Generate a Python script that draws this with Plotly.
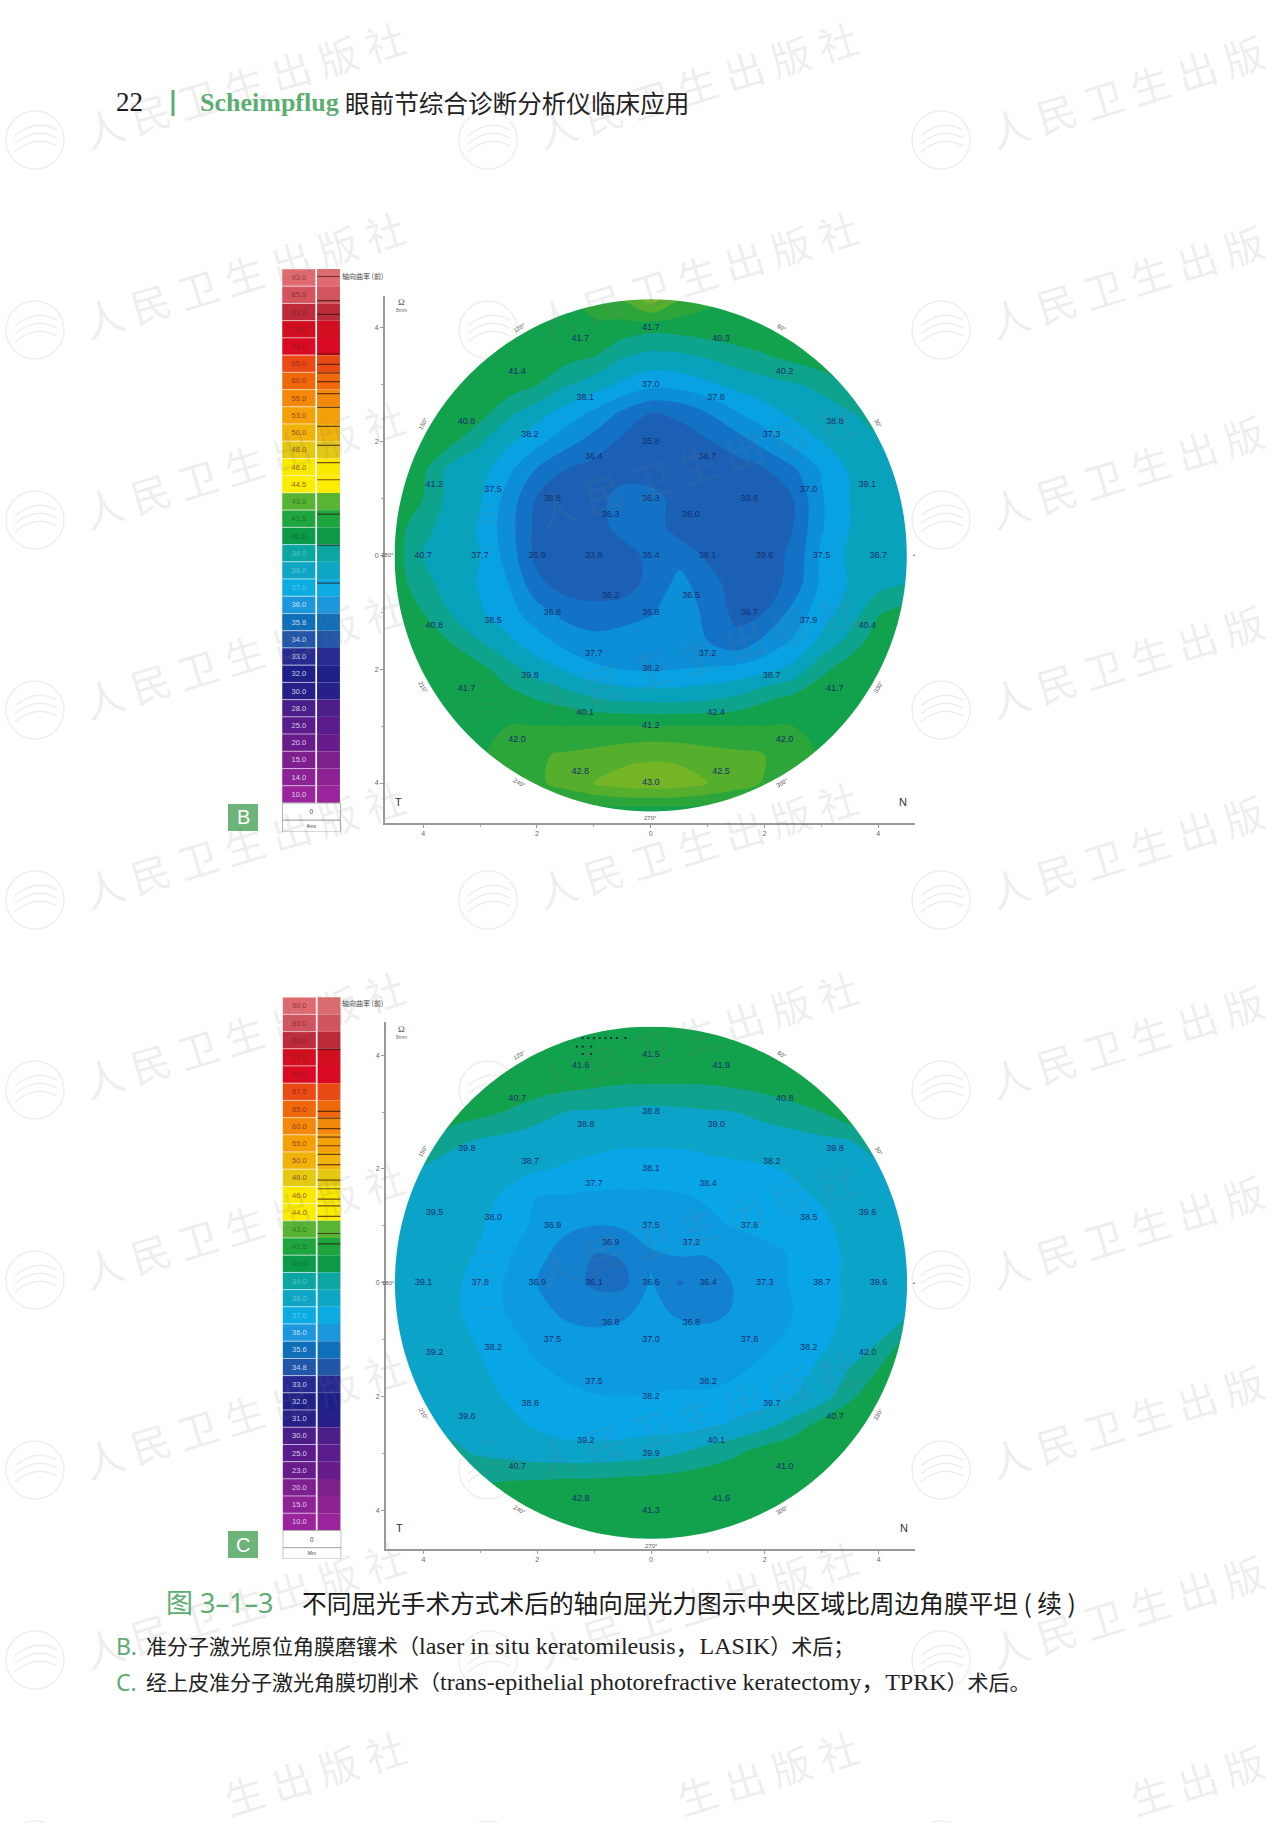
import numpy as np
import plotly.graph_objects as go

# ---------- data ----------
GRID = [-4.5, -4, -3.5, -3, -2.5, -2, -1.5, -1, -0.5, 0, 0.5, 1, 1.5, 2, 2.5, 3, 3.5, 4, 4.5]

# band level per 0.5 mm cell, rows from y=+4.5 to y=-4.5
Z_B = [
 [6.9,6.9,6.9,6.9,6.9,6.9,6.9,7.2,8.0,9.5,8.0,7.2,6.9,6.9,6.9,6.9,6.9,6.9,6.9],
 [6.9,6.9,6.9,6.9,6.9,6.9,6.9,6.9,6.6,6.3,6.4,6.6,6.8,6.9,6.9,6.9,6.9,6.9,6.9],
 [6.9,6.9,6.9,6.9,6.9,6.7,6.4,6.0,5.1,4.7,4.8,5.1,5.5,5.9,6.3,6.8,6.9,6.9,6.9],
 [6.9,6.9,6.9,6.9,6.6,6.0,5.1,4.5,3.8,3.3,3.4,3.8,4.3,4.6,4.9,5.2,6.0,6.9,6.9],
 [6.9,6.9,6.9,6.4,5.2,4.4,3.6,2.8,1.8,1.0,1.2,2.0,2.9,3.6,4.2,4.6,4.9,5.4,6.0],
 [6.9,6.9,6.2,5.1,4.2,3.3,2.4,1.6,0.8,0.4,0.5,0.9,1.5,2.4,3.3,4.0,4.6,4.9,5.0],
 [6.9,6.2,4.6,4.4,3.2,1.9,1.0,0.6,0.4,0.3,0.3,0.4,0.5,0.9,1.8,3.1,4.1,4.6,4.9],
 [6.5,6.0,4.6,4.1,2.6,0.9,0.5,0.5,1.5,1.5,0.5,0.3,0.3,0.4,1.0,2.9,4.0,4.6,4.8],
 [6.5,5.3,4.5,3.9,2.4,0.7,0.4,0.5,1.4,1.6,0.5,0.4,0.3,0.4,1.0,2.9,4.0,4.5,4.8],
 [6.5,5.0,4.5,4.0,2.6,0.7,0.3,0.3,0.5,1.3,1.7,0.8,0.4,0.5,1.2,3.2,4.2,4.6,4.8],
 [6.6,5.3,4.6,3.9,3.0,1.3,0.5,0.4,0.5,1.3,2.3,1.5,0.5,0.4,1.4,3.2,4.1,4.6,5.0],
 [6.9,6.0,4.9,4.1,3.4,2.4,1.7,1.4,1.5,1.9,2.5,1.8,0.7,1.0,2.3,3.6,4.4,5.9,6.4],
 [6.9,6.9,5.9,5.0,4.2,3.4,2.6,2.3,2.5,2.6,2.5,2.0,1.3,2.2,3.1,4.2,5.3,6.6,6.9],
 [6.9,6.9,6.9,6.3,5.4,4.5,3.9,3.2,3.0,2.9,3.0,3.1,3.3,3.7,4.3,5.7,6.6,6.9,6.9],
 [6.9,6.9,6.9,6.9,6.4,5.9,5.5,5.0,4.7,4.6,4.6,4.8,5.1,5.8,6.2,6.8,6.9,6.9,6.9],
 [6.9,6.9,6.9,6.9,7.0,7.02,7.02,7.02,7.02,7.02,7.02,7.02,7.02,7.02,7.0,6.95,6.9,6.9,6.9],
 [6.9,6.9,6.9,6.9,7.3,7.9,8.1,8.3,8.6,8.8,8.7,8.4,8.2,8.0,7.4,6.9,6.9,6.9,6.9],
 [6.9,6.9,6.9,6.9,6.9,7.8,8.4,9.0,9.5,9.6,9.5,9.0,8.5,7.9,6.9,6.9,6.9,6.9,6.9],
 [6.5,6.5,6.5,6.5,6.5,6.5,6.5,6.5,6.5,6.5,6.5,6.5,6.5,6.5,6.5,6.5,6.5,6.5,6.5],
]
Z_C = [
 [6.8,6.8,6.8,6.8,6.8,6.8,6.8,6.8,6.8,6.8,6.8,6.8,6.8,6.8,6.8,6.8,6.8,6.8,6.8],
 [6.8,6.8,6.8,6.8,6.8,6.8,6.8,6.8,6.8,6.8,6.8,6.8,6.8,6.8,6.8,6.8,6.8,6.8,6.8],
 [6.9,6.9,6.9,6.9,6.9,6.6,6.4,6.2,6.05,6.02,6.02,6.05,6.2,6.4,6.7,6.9,6.9,6.9,6.9],
 [6.9,6.9,6.8,6.3,5.9,5.4,5.0,4.9,4.8,4.7,4.8,4.9,5.0,5.3,5.6,6.0,6.8,6.9,6.9],
 [6.5,6.5,5.2,4.9,4.7,4.5,4.4,4.3,4.2,4.2,4.2,4.3,4.4,4.5,4.6,4.8,5.0,5.6,6.0],
 [5.0,4.8,4.6,4.5,4.3,4.1,3.9,3.7,3.5,3.5,3.5,3.7,3.8,3.9,4.1,4.3,4.5,4.7,4.9],
 [4.9,4.7,4.5,4.3,3.8,3.0,2.9,2.8,2.8,2.8,2.9,3.1,3.3,3.6,3.8,4.1,4.4,4.6,4.8],
 [4.8,4.6,4.4,4.1,3.4,2.8,2.2,2.0,2.1,2.4,2.7,2.8,3.1,3.3,3.5,3.8,4.3,4.6,4.8],
 [4.8,4.6,4.3,3.9,3.1,2.3,1.6,1.0,1.1,1.9,2.1,2.05,2.3,2.7,3.1,3.6,4.2,4.5,4.7],
 [4.8,4.6,4.2,3.6,2.85,2.0,1.5,0.8,0.7,2.1,0.9,1.5,2.1,2.6,3.1,3.6,4.2,4.5,4.7],
 [4.8,4.6,4.2,3.6,2.9,2.3,1.8,1.6,1.8,2.3,1.8,1.7,2.1,2.6,3.0,3.6,4.2,4.5,4.7],
 [4.8,4.6,4.3,3.9,3.3,2.7,2.4,2.3,2.4,2.6,2.5,2.4,2.5,2.8,3.2,3.8,4.4,4.9,6.2],
 [4.9,4.7,4.4,4.1,3.6,3.1,2.8,2.6,2.7,2.7,2.7,2.7,2.85,3.2,3.6,4.2,5.0,6.0,6.6],
 [5.0,4.8,4.6,4.3,3.9,3.5,3.2,3.05,3.0,3.05,3.1,3.1,3.3,3.5,4.0,4.5,5.8,6.7,6.9],
 [5.0,5.0,4.8,4.5,4.2,3.9,3.6,3.5,3.5,3.6,3.6,3.8,4.2,4.7,5.4,6.4,6.9,6.9,6.9],
 [5.2,5.2,5.2,4.9,4.7,4.5,4.4,4.4,4.5,4.7,5.0,5.5,5.9,6.5,6.9,6.9,6.9,6.9,6.9],
 [6.0,6.0,6.0,5.9,6.05,6.1,6.2,6.2,6.3,6.4,6.5,6.6,6.7,6.8,6.9,6.9,6.9,6.9,6.9],
 [6.8,6.8,6.8,6.8,6.8,6.8,6.8,6.8,6.8,6.8,6.8,6.8,6.8,6.8,6.8,6.8,6.8,6.8,6.8],
 [6.8,6.8,6.8,6.8,6.8,6.8,6.8,6.8,6.8,6.8,6.8,6.8,6.8,6.8,6.8,6.8,6.8,6.8,6.8],
]
BANDS_B = ["#1b60b5", "#1472c6", "#0c8ed9", "#08a2e2", "#09a2bc", "#0ea38c",
           "#12a14c", "#2ca63a", "#55ae2c", "#74b527", "#9ab91e"]
BANDS_C = ["#1a6cc0", "#1480d0", "#0c9ae0", "#08a6e6", "#0ba3c8", "#0fa38f",
           "#12a14c", "#2ca63a", "#55ae2c", "#74b527", "#9ab91e"]

# printed values: centre then rings at r = 1, 2, 3, 4 (counter-clockwise from 0 deg)
B_CENTER = "36.4"
B_R1 = ["38.1","36.0","36.3","36.3","33.8","36.2","36.8","36.5"]
B_R2 = ["39.6","39.8","36.7","35.8","36.4","38.8","35.9","36.8","37.7","38.2","37.2","36.7"]
B_R3 = ["37.5","37.0","37.3","37.8","37.0","38.1","38.2","37.5","37.7","38.5","39.8","40.1","41.2","42.4","38.7","37.9"]
B_R4 = ["38.7","39.1","38.8","40.2","40.3","41.7","41.7","41.4","40.8","41.2","40.7","40.8","41.7","42.0","42.8","43.0","42.5","42.0","41.7","40.4"]
C_CENTER = "36.6"
C_R1 = ["36.4","37.2","37.5","36.9","36.1","36.8","37.0","36.8"]
C_R2 = ["37.3","37.6","38.4","38.1","37.7","36.9","36.9","37.5","37.5","38.2","38.2","37.8"]
C_R3 = ["38.7","38.5","38.2","39.0","38.8","38.8","38.7","38.0","37.8","38.2","38.8","39.2","39.9","40.1","39.7","38.2"]
C_R4 = ["39.6","39.6","39.8","40.8","41.9","41.5","41.6","40.7","39.8","39.5","39.1","39.2","39.6","40.7","42.8","41.3","41.6","41.0","40.7","42.0"]

TICK_VALS = [-4, -2, 0, 2, 4]
TICK_TEXT = ["4", "2", "0", "2", "4"]
ANGLES = [0, 30, 60, 90, 120, 150, 180, 210, 240, 270, 300, 330]
ANGLE_TEXT = ["•", "30°", "60°", "90°", "120°", "150°", "180°", "210°", "240°", "270°", "300°", "330°"]
C_DOTS_X = [-1.2, -1.1, -1.0, -0.9, -0.8, -0.7, -0.6, -0.45, -1.3, -1.2, -1.05, -1.05, -1.2]
C_DOTS_Y = [4.3, 4.3, 4.3, 4.3, 4.3, 4.3, 4.3, 4.3, 4.15, 4.15, 4.15, 4.02, 4.02]

LEGEND_COLORS = ["#df6b70","#d3545f","#bd2b3b","#d20f20","#da0a22","#ea4a13","#ef690c","#f3880a",
                 "#f4a008","#f1b20a","#e4c812","#fae800","#fbec00","#58b432","#1fa53e","#0c9a48",
                 "#0ba5a2","#0ea6c4","#0cabe2","#1c96dc","#0f6fb8","#2256a8","#272a90","#1f1f88",
                 "#262088","#4c1e8a","#5a1c8c","#681c8c","#7d208e","#8c2294","#9a249c"]
LEGEND_B = ["93.0","85.0","83.0","75.0","70.0","65.0","60.0","55.0","53.0","50.0","48.0","46.0","44.5",
            "43.0","41.5","40.0","39.0","38.0","37.0","36.0","35.8","34.0","33.0","32.0","30.0","28.0",
            "25.0","20.0","15.0","14.0","10.0"]
LEGEND_C = ["90.0","83.0","80.0","77.0","70.0","67.5","65.0","60.0","55.0","50.0","48.0","46.0","44.0",
            "43.0","41.5","40.0","39.0","38.0","37.0","36.0","35.6","34.8","33.0","32.0","31.0","30.0",
            "25.0","23.0","20.0","15.0","10.0"]
HIST_B = [0.4,1.8,2.6,4.9,5.5,6.0,6.5,7.2,8.0,9.1,10.2,11.2,12.2,14.2,16.0,18.2]
HIST_C = [3.0,6.6,7.0,7.6,8.1,8.6,9.1,9.7,10.6,11.1,11.7,12.1,12.7,13.7,14.3]
WM_CHARS = ["人", "民", "卫", "生", "出", "版", "社"]

W, H = 1280, 1823
PX_MM = 56.9
GREEN = "#5cad72"
CJK = "Noto Sans CJK SC"
SERIF = f"Liberation Serif, {CJK}"

def px(x): return x / W
def py(y): return 1 - y / H

annotations, shapes, traces = [], [], []
layout = {}

def note(x, y, text, size, color="#222", family=CJK, anchor="left", angle=0):
    annotations.append(dict(x=px(x), y=py(y), xref="paper", yref="paper", text=text, showarrow=False, xanchor=anchor,
                            yanchor="middle", textangle=angle, font=dict(size=size, color=color, family=family),
                            borderpad=0, borderwidth=0))

def ring_points(r, labels):
    t = np.deg2rad(np.arange(len(labels)) * 360 / len(labels))
    return r * np.cos(t), r * np.sin(t), labels

def add_map(idx, z, bands, center, rings, cx, cy, ax_top, ax_bottom, ax_left, ax_right):
    xa, ya = f"x{idx}", f"y{idx}"
    layout[f"xaxis{idx}"] = dict(domain=[px(ax_left), px(ax_right)], range=[(ax_left - cx) / PX_MM, (ax_right - cx) / PX_MM],
                                 anchor=ya, tickvals=TICK_VALS, ticktext=TICK_TEXT, ticks="outside", ticklen=3,
                                 tickfont=dict(size=7, color="#666", family="Liberation Sans"), showgrid=False, zeroline=False,
                                 showline=True, linecolor="#999", linewidth=2, tickcolor="#999",
                                 minor=dict(tickvals=[-3, -1, 1, 3], ticks="outside", ticklen=2, tickcolor="#aaa"))
    layout[f"yaxis{idx}"] = dict(domain=[py(ax_bottom), py(ax_top)], range=[(cy - ax_bottom) / PX_MM, (cy - ax_top) / PX_MM],
                                 anchor=xa, tickvals=TICK_VALS, ticktext=TICK_TEXT, ticks="outside", ticklen=3,
                                 tickfont=dict(size=7, color="#666", family="Liberation Sans"), showgrid=False, zeroline=False,
                                 showline=True, linecolor="#999", linewidth=2, tickcolor="#999",
                                 minor=dict(tickvals=[-3, -1, 1, 3], ticks="outside", ticklen=2, tickcolor="#aaa"))
    n = len(bands)
    levels = n + 1
    scale = [[0, bands[0]]] + [[(i + 1) / levels, c] for i, c in enumerate(bands)] + [[1, bands[-1]]]
    traces.append(go.Contour(x=GRID, y=GRID, z=np.array(z)[::-1], xaxis=xa, yaxis=ya, autocontour=False,
                             contours=dict(start=0, end=n, size=1, coloring="fill", showlines=False),
                             line=dict(width=0, smoothing=1.0), colorscale=scale, showscale=False, hoverinfo="skip"))
    # white mask around the round map (keyhole polygon, circle wound against the rectangle)
    t = np.linspace(0, -2 * np.pi, 361)
    outer = 4.56
    mx = list(4.5 * np.cos(t)) + [outer, outer, -outer, -outer, outer, outer]
    my = list(4.5 * np.sin(t)) + [0, outer, outer, -outer, -outer, 0]
    traces.append(go.Scatter(x=mx, y=my, xaxis=xa, yaxis=ya, mode="none", fill="toself", fillcolor="white",
                             hoverinfo="skip", showlegend=False))
    xs, ys, txt = [0.0], [0.0], [center]
    for r, lab in zip([1, 2, 3, 4], rings):
        a, b, c = ring_points(r, lab)
        xs += list(a); ys += list(b); txt += list(c)
    traces.append(go.Scatter(x=xs, y=ys, text=txt, xaxis=xa, yaxis=ya, mode="text",
                             textfont=dict(size=9, color="#14306e", family="Liberation Sans"),
                             hoverinfo="skip", showlegend=False))
    for ang, lab in zip(ANGLES, ANGLE_TEXT):
        a = np.deg2rad(ang)
        rot = 0 if ang in (0, 90, 180, 270) else (90 - ang if ang < 180 else 270 - ang)
        annotations.append(dict(x=4.62 * np.cos(a), y=4.62 * np.sin(a), xref=xa, yref=ya, text=lab, showarrow=False,
                                textangle=rot, font=dict(size=6, color="#555", family="Liberation Sans")))

def add_legend(idx, labels, hist, top, row_h, left, foot_label, title, title_y):
    xa, ya = f"x{idx}", f"y{idx}"
    pad_top, foot_rows = 2.5, 1.66
    bottom = top + row_h * (len(labels) + foot_rows)
    unit = 29.7
    x0 = left + 16.8
    layout[f"xaxis{idx}"] = dict(domain=[px(left), px(left + 59)], range=[(left - x0) / unit, (left + 59 - x0) / unit],
                                 anchor=ya, visible=False)
    layout[f"yaxis{idx}"] = dict(domain=[py(bottom), py(top - pad_top)],
                                 range=[len(labels) + foot_rows, -pad_top / row_h], anchor=xa, visible=False)
    rows = list(range(len(labels)))
    def text_color(i):
        if i < 13: return "rgba(120,30,30,0.75)"
        if i < 16: return "rgba(20,90,40,0.7)"
        if i < 19: return "rgba(255,255,255,0.35)"
        return "rgba(235,235,255,0.85)"
    traces.append(go.Bar(x=[0] * len(rows), y=[1] * len(rows), base=rows, width=1.13, marker=dict(color=LEGEND_COLORS, line=dict(color="rgba(255,255,255,0.45)", width=1)),
                         text=labels, textposition="inside", insidetextanchor="middle", textangle=0,
                         textfont=dict(size=7.5, color=[text_color(i) for i in rows], family="Liberation Sans"),
                         xaxis=xa, yaxis=ya, hoverinfo="skip", showlegend=False))
    traces.append(go.Bar(x=[1] * len(rows), y=[1] * len(rows), base=rows, width=0.77, marker=dict(color=LEGEND_COLORS, line=dict(width=0)),
                         xaxis=xa, yaxis=ya, hoverinfo="skip", showlegend=False))
    traces.append(go.Bar(x=[1] * len(hist), y=[0.07] * len(hist), base=hist, width=0.77, marker=dict(color="rgba(50,20,10,0.7)", line=dict(width=0)),
                         xaxis=xa, yaxis=ya, hoverinfo="skip", showlegend=False))
    n = len(labels)
    traces.append(go.Bar(x=[0.427, 0.427], y=[1, foot_rows - 1], base=[n, n + 1], width=1.96,
                         marker=dict(color="white", line=dict(color="#aaa", width=1)),
                         text=["0", foot_label], textposition="inside", insidetextanchor="middle", textangle=0,
                         textfont=dict(size=6.5, color="#444", family="Liberation Sans"),
                         xaxis=xa, yaxis=ya, hoverinfo="skip", showlegend=False))
    note(342, title_y, title, 7, "#444")

# ---------- watermark ----------
WM = "rgba(120,120,120,0.13)"
STEP_X, STEP_Y = 47, 14.3
for row in range(10):
    for col in range(3):
        lx, ly = 35 + 453 * col, 140 + 190 * row
        last = 5 if col == 2 else 6
        if row == 9:
            # bottom row runs off the page: only the characters that fit, each placed on its own
            for i in range(3, last + 1):
                note(lx + 209 + STEP_X * (i - 3), ly - 56 - STEP_Y * (i - 3), WM_CHARS[i], 40, WM, CJK, "center", -17)
        else:
            chars = WM_CHARS[0:last + 1]
            mid = last / 2 - 3
            note(lx + 209 + STEP_X * mid, ly - 56 - STEP_Y * mid, "&#160;".join(chars), 40, WM, CJK, "center", -17)
        shapes.append(dict(type="circle", xref="paper", yref="paper", x0=px(lx - 29), x1=px(lx + 29),
                           y0=py(ly + 29), y1=py(ly - 29), line=dict(color=WM, width=1.5), layer="above"))
        for dy in (-10, -2, 6):
            shapes.append(dict(type="path", xref="paper", yref="paper",
                               path=f"M {px(lx-20)} {py(ly+dy+6)} Q {px(lx)} {py(ly+dy-12)} {px(lx+22)} {py(ly+dy)}",
                               line=dict(color=WM, width=1.5), layer="above"))

# ---------- maps and legends ----------
add_map(1, Z_B, BANDS_B, B_CENTER, [B_R1, B_R2, B_R3, B_R4], 650.7, 555.4, 296, 823, 385, 915)
add_legend(2, LEGEND_B, HIST_B, 269, 17.226, 282, "4ms", "轴向曲率 (前)", 276)
add_map(3, Z_C, BANDS_C, C_CENTER, [C_R1, C_R2, C_R3, C_R4], 651.0, 1282.7, 1022, 1549, 386, 915)
add_legend(4, LEGEND_C, HIST_C, 997.2, 17.203, 282.5, "Mm", "轴向曲率 (前)", 1003)

traces.append(go.Scatter(x=C_DOTS_X, y=C_DOTS_Y, xaxis="x3", yaxis="y3", mode="markers",
                         marker=dict(size=2.2, color="#123"), hoverinfo="skip", showlegend=False))

# axis corner letters
for x, y, t in [(398, 802, "T"), (903, 802, "N"), (399, 1528, "T"), (904, 1528, "N")]:
    note(x, y, t, 11, "#333", "Liberation Sans", "center")
for y in (305, 1032):
    note(401, y - 3, "Ω", 9, "#555", "Liberation Serif", "center")
    note(401, y + 5, "8mm", 5, "#666", "Liberation Sans", "center")

# panel tags
for lab, y0, y1 in [("B", 804, 831), ("C", 1531, 1558)]:
    shapes.append(dict(type="rect", xref="paper", yref="paper", x0=px(228), x1=px(258), y0=py(y1), y1=py(y0),
                       fillcolor="#6cb47a", line=dict(width=0), layer="above"))
    note(243, (y0 + y1) / 2, lab, 20, "white", "Liberation Sans", "center")

# ---------- page text ----------
LAT = '<span style="font-size:24px">'
note(116, 102, "22", 27, "#1a1a1a", "Liberation Serif")
shapes.append(dict(type="line", xref="paper", yref="paper", x0=px(173), x1=px(173), y0=py(116), y1=py(90),
                   line=dict(color=GREEN, width=3), layer="above"))
note(200, 102, "<b>Scheimpflug</b>", 26, GREEN, "Liberation Serif")
note(345, 102, "眼前节综合诊断分析仪临床应用", 24.6, "#222", CJK)
note(166, 1602, "图 3–1–3", 27, GREEN, "Noto Sans, " + CJK)
note(302, 1602, "不同屈光手术方式术后的轴向屈光力图示中央区域比周边角膜平坦 ( 续 )", 24.7, "#1a1a1a", CJK)
note(116, 1646, "B.", 23, GREEN, "Noto Sans")
note(146, 1646, f"准分子激光原位角膜磨镶术（{LAT}laser in situ keratomileusis，LASIK</span>）术后；", 21, "#222", SERIF)
note(116, 1682, "C.", 23, GREEN, "Noto Sans")
note(146, 1682, f"经上皮准分子激光角膜切削术（{LAT}trans-epithelial photorefractive keratectomy，TPRK</span>）术后。", 21, "#222", SERIF)

fig = go.Figure(traces)
fig.update_layout(width=W, height=H, margin=dict(l=0, r=0, t=0, b=0), paper_bgcolor="white", plot_bgcolor="white",
                  showlegend=False, barmode="overlay", annotations=annotations, shapes=shapes, **layout)
fig.write_html("out.html", config=dict(displayModeBar=False),
               post_script="document.body.style.margin='0';document.body.style.overflow='hidden';")
